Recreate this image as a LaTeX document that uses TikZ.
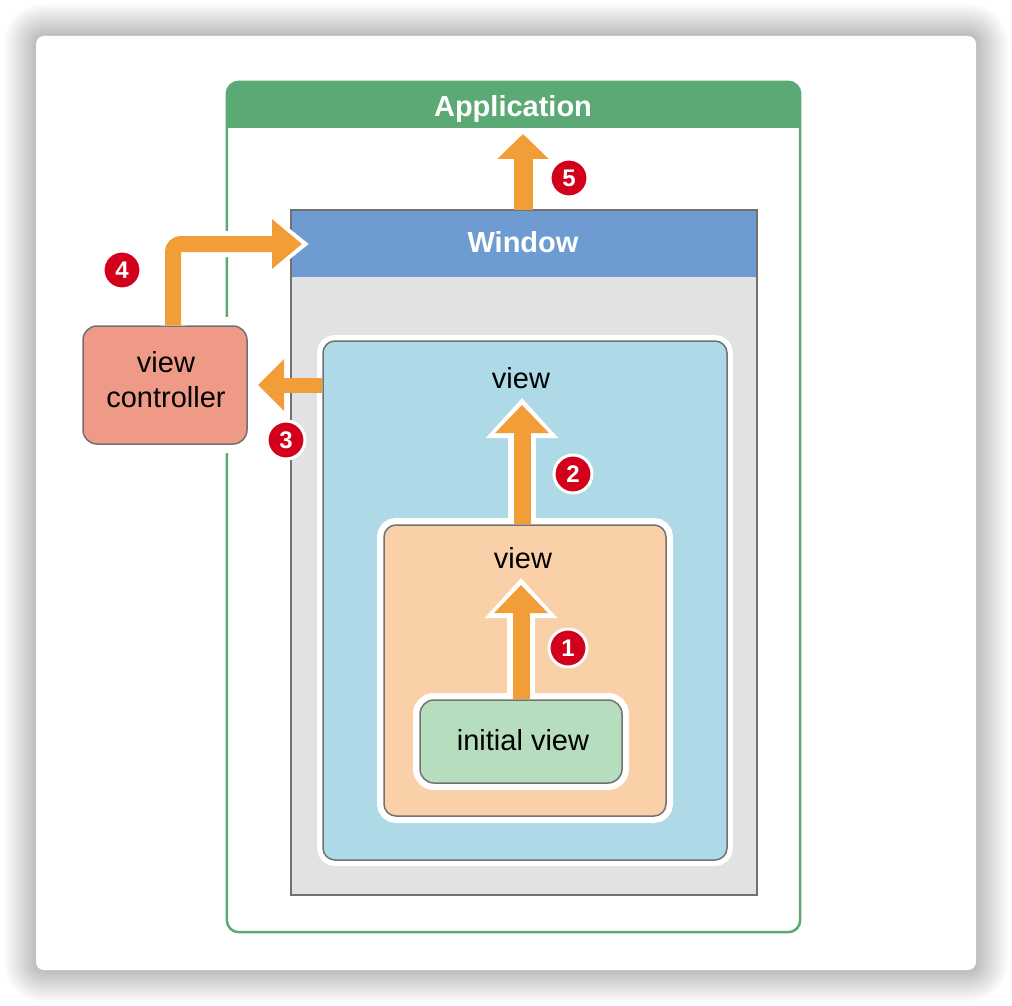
\documentclass[tikz,border=0pt]{standalone}
\usepackage{fontspec}
\setmainfont{Liberation Sans}
\usetikzlibrary{arrows.meta}
\definecolor{appgreen}{HTML}{5BAA75}
\definecolor{winblue}{HTML}{6E9BD1}
\definecolor{winbody}{HTML}{E1E2E4}
\definecolor{viewblue}{HTML}{ADDAE6}
\definecolor{vieworange}{HTML}{FAD0A8}
\definecolor{initgreen}{HTML}{B6DDBD}
\definecolor{vcsalmon}{HTML}{EE9A86}
\definecolor{arrorange}{HTML}{F19D38}
\definecolor{bordergray}{HTML}{717171}
\definecolor{badgered}{HTML}{D3001C}
\begin{document}
\begin{tikzpicture}[x=1pt,y=-1pt,
  lbl/.style={font=\fontsize{29}{35}\selectfont, anchor=base, inner sep=0pt},
  hdr/.style={font=\bfseries\fontsize{29}{35}\selectfont, text=white, anchor=base, inner sep=0pt},
  viewbox/.style={draw=bordergray, line width=1.5pt, rounded corners=12pt, inner sep=0pt,
     preaction={draw=white, line width=#1}},
  arr/.style={draw=arrorange, line width=17pt, -{Triangle[length=28pt,width=52pt]}},
  halo/.style={preaction={draw=white, line width=28pt, -{Triangle[length=40pt,width=70pt]}, shorten >=-7pt}},
  badge/.style={circle, fill=badgered, draw=white, line width=3pt, minimum size=38pt, inner sep=0pt,
     text=white, font=\bfseries\fontsize{24}{24}\selectfont}]
\useasboundingbox (0,0) rectangle (1012,1006);
\fill[white] (0,0) rectangle (1012,1006);
% card shadow
\foreach \i [evaluate=\i as \d using 2*\i, evaluate=\i as \r using 8+2*\i] in {1,...,16}
  \fill[black, opacity=0.014, rounded corners=\r pt] (36-\d,36-\d) rectangle (976+\d,970+\d);
\fill[white, rounded corners=8pt] (36,36) rectangle (976,970);

% Application
\node[minimum width=573pt, minimum height=850pt, inner sep=0pt] (app) at (513.5,507) {};
\begin{scope}
  \clip[rounded corners=12pt] (app.north west) rectangle (app.south east);
  \fill[appgreen] (app.north west) rectangle (800,128);
\end{scope}
\draw[appgreen, line width=2.5pt, rounded corners=12pt] (app.north west) rectangle (app.south east);
\node[hdr] (apptxt) at (513,117) {Application};

% view controller
\node[viewbox=18pt, fill=vcsalmon, rounded corners=14pt, minimum width=164pt, minimum height=118pt] (vc) at (165,385) {};
\node[lbl] (vct1) at (166,372) {view};
\node[lbl] (vct2) at (166,407) {controller};

% Window
\node[fill=winbody, minimum width=466pt, minimum height=685pt, inner sep=0pt] (win) at (524,552.5) {};
\fill[winblue] (win.north west) rectangle (757,277);
\draw[bordergray, line width=2.5pt] (win.north west) rectangle (win.south east);
\node[hdr] (wintxt) at (523,252) {Window};

% nested views
\node[viewbox=12pt, fill=viewblue, minimum width=404pt, minimum height=519pt] (bv) at (525,600.5) {};
\node[viewbox=14pt, fill=vieworange, minimum width=282pt, minimum height=291pt] (ov) at (525,670.5) {};
\node[viewbox=14pt, fill=initgreen, rounded corners=14pt, minimum width=202pt, minimum height=83pt] (init) at (521,741.5) {};
\node[lbl] (inittxt) at (523,750) {initial view};
\node[lbl] (lv1) at (521,388) {view};
\node[lbl] (lv2) at (523,568) {view};

% arrow end points
\coordinate (t1) at (521,585);
\coordinate (t2) at (522,405);
\coordinate (t3) at (258,385);
\coordinate (t4) at (302,244);
\coordinate (t5) at (523,134);

% arrows
\draw[arr, halo] (init.north -| t1) -- (t1);
\draw[arr, halo] (ov.north -| t2) -- (t2);
\draw[draw=arrorange, line width=15pt, -{Triangle[length=26pt,width=50pt]}] (bv.west |- t3) -- (t3);
\draw[draw=arrorange, line width=16pt, rounded corners=8pt, -{Triangle[length=30pt,width=48pt]},
  preaction={draw=white, line width=26pt, -{Triangle[length=42pt,width=64pt]}, shorten >=-7pt}]
  ([xshift=8pt]vc.north) |- (t4);
\draw[draw=arrorange, line width=19pt, -{Triangle[length=25pt,width=50pt]}] (win.north -| t5) -- (t5);

% badges
\node[badge] (b1) at (568,648) {1};
\node[badge] (b2) at (573,474) {2};
\node[badge] (b3) at (286,440) {3};
\node[badge] (b4) at (122,270) {4};
\node[badge] (b5) at (569,178) {5};
\end{tikzpicture}
\end{document}
